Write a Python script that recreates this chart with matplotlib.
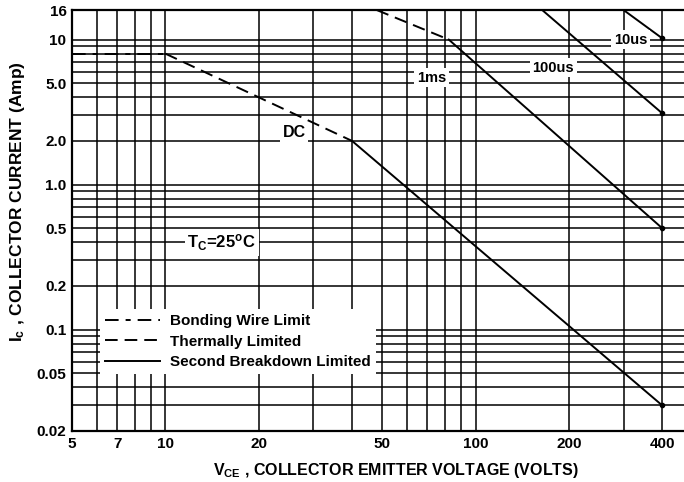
import matplotlib
matplotlib.use("Agg")
import matplotlib.pyplot as plt
from matplotlib.lines import Line2D

plt.rcParams['font.family'] = ['Liberation Sans', 'DejaVu Sans']
plt.rcParams['font.weight'] = 'bold'
plt.rcParams['mathtext.fontset'] = 'custom'
plt.rcParams['mathtext.rm'] = 'Liberation Sans:bold'
plt.rcParams['mathtext.it'] = 'Liberation Sans:bold'

# grid positions and tick labels
x_grid = [5, 6, 7, 8, 9, 10, 20, 30, 40, 50, 60, 70, 80, 90, 100, 200, 300, 400]
x_labels = ['5', '', '7', '', '', '10', '20', '', '', '50', '', '', '', '', '100', '200', '', '400']
y_grid = [0.02, 0.03, 0.04, 0.05, 0.06, 0.07, 0.08, 0.09, 0.1, 0.2, 0.3, 0.4, 0.5,
          0.6, 0.7, 0.8, 0.9, 1, 2, 3, 4, 5, 6, 7, 8, 9, 10, 16]
y_labels = ['0.02', '', '', '0.05', '', '', '', '', '0.1', '0.2', '', '', '0.5',
            '', '', '', '', '1.0', '2.0', '', '', '5.0', '', '', '', '', '10', '16']

# DC curve
dc_bond_v = [5, 10]
dc_bond_i = [8, 8]
dc_therm_v = [10, 40]
dc_therm_i = [8, 2]
dc_sb_v = [40, 400]
dc_sb_i = [2, 0.03]

# 1 ms
ms1_therm_v = [48, 82]
ms1_therm_i = [16, 10]
ms1_sb_v = [82, 400]
ms1_sb_i = [10, 0.5]

# 100 us
us100_v = [164, 400]
us100_i = [16, 3.1]

# 10 us
us10_v = [300, 400]
us10_i = [16, 10.2]

bond_style = (0, (7, 3.6, 2.6, 3.6))
therm_style = (0, (6.5, 3.6))

fig = plt.figure(figsize=(6.84, 4.82), dpi=100)
ax = fig.add_axes([72 / 684, 51 / 482, 612 / 684, 421 / 482])
ax.set_xscale('log')
ax.set_yscale('log')
ax.set_xlim(5, 470)
ax.set_ylim(0.02, 16)

ax.set_xticks(x_grid)
ax.set_xticklabels(x_labels)
ax.set_yticks(y_grid)
ax.set_yticklabels(y_labels)
ax.minorticks_off()
ax.tick_params(length=0, labelsize=11, pad=4)
for lab in ax.get_xticklabels() + ax.get_yticklabels():
    lab.set_fontweight('bold')
ax.grid(True, color='black', linewidth=1.1)
ax.set_axisbelow(True)
for side in ['left', 'bottom', 'top']:
    ax.spines[side].set_linewidth(1.6)
ax.spines['right'].set_visible(False)

lw = 1.4
ax.plot(dc_bond_v, dc_bond_i, color='black', lw=lw, linestyle=bond_style)
ax.plot(dc_therm_v, dc_therm_i, color='black', lw=lw, linestyle=therm_style)
ax.plot(dc_sb_v, dc_sb_i, color='black', lw=lw)
ax.plot(ms1_therm_v, ms1_therm_i, color='black', lw=lw, linestyle=therm_style)
ax.plot(ms1_sb_v, ms1_sb_i, color='black', lw=lw)
ax.plot(us100_v, us100_i, color='black', lw=lw)
ax.plot(us10_v, us10_i, color='black', lw=lw)
for v, i in [(dc_sb_v, dc_sb_i), (ms1_sb_v, ms1_sb_i), (us100_v, us100_i), (us10_v, us10_i)]:
    ax.plot(v[-1], i[-1], 'o', color='black', markersize=3)

box = dict(facecolor='white', edgecolor='none', pad=2)
ax.text(26, 2.28, 'DC', fontsize=11.5, fontweight='bold', ha='center', va='center', bbox=box)
ax.text(72, 5.47, '1ms', fontsize=10.5, fontweight='bold', ha='center', va='center', bbox=box)
ax.text(178, 6.4, '100us', fontsize=10.5, fontweight='bold', ha='center', va='center', bbox=box)
ax.text(316, 10.0, '10us', fontsize=10.5, fontweight='bold', ha='center', va='center', bbox=box)
ax.text(15.2, 0.4, r'T$_\mathrm{C}$=25$^\mathrm{o}$C', fontsize=12, fontweight='bold',
        ha='center', va='center', bbox=box)

handles = [
    Line2D([], [], color='black', lw=lw, linestyle=bond_style),
    Line2D([], [], color='black', lw=lw, linestyle=therm_style),
    Line2D([], [], color='black', lw=lw),
]
names = ['Bonding Wire Limit', 'Thermally Limited', 'Second Breakdown Limited']
leg = ax.legend(handles, names, loc='upper left', bbox_to_anchor=(0.046, 0.29),
                frameon=True, fancybox=False, framealpha=1, edgecolor='none',
                handlelength=3.6, handletextpad=0.6, labelspacing=0.42,
                borderpad=0.35, borderaxespad=0, prop={'weight': 'bold', 'size': 11})

ax.set_xlabel(r'V$_\mathrm{CE}$ , COLLECTOR EMITTER VOLTAGE (VOLTS)', fontsize=11.5,
              fontweight='bold')
ax.xaxis.set_label_coords(0.53, -0.071)
ax.set_ylabel(r'I$_\mathrm{c}$ , COLLECTOR CURRENT (Amp)', fontsize=12.5, fontweight='bold')
ax.yaxis.set_label_coords(-0.073, 0.546)

fig.savefig('out.png', dpi=100)
